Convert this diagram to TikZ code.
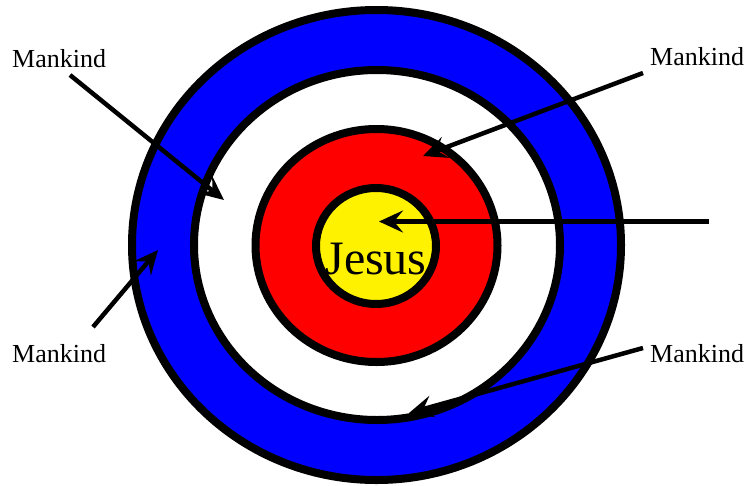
\documentclass[tikz,border=0pt]{standalone}
\usepackage{fontspec}
\setmainfont{Liberation Serif}
\usetikzlibrary{arrows.meta}
\begin{document}
\begin{tikzpicture}[x=1pt,y=-1pt,
  ring/.style={draw=black,line width=8pt},
  lbl/.style={inner sep=0pt,anchor=base west,font=\fontsize{26}{26}\selectfont},
  pointer/.style={line width=4.5pt,-{Stealth[length=24pt,width=22pt,inset=9pt]}}]
\useasboundingbox (0,0) rectangle (747,485);
% target rings
\fill[blue] (376.5,245) ellipse [x radius=244.5,y radius=235];
\draw[ring] (376.5,245) ellipse [x radius=244.5,y radius=235];
\draw[ring,fill=white] (377,245) ellipse [x radius=183,y radius=175];
\draw[ring,fill=red] (376.5,245.5) ellipse [x radius=121,y radius=116.5];
\draw[ring,fill=yellow] (376,246) ellipse [x radius=60,y radius=58];
\node[inner sep=0pt,anchor=base,font=\fontsize{48}{48}\selectfont] (jesus) at (376,274) {Jesus};
% labels
\node[lbl] (tl) at (12,67) {Mankind};
\node[lbl] (tr) at (650,65) {Mankind};
\node[lbl] (bl) at (12,362) {Mankind};
\node[lbl] (br) at (650,362) {Mankind};
% arrow ends
\coordinate (tls) at (70,75);   \coordinate (tlt) at (224,200);
\coordinate (trs) at (643,73);  \coordinate (trt) at (423,156);
\coordinate (rs)  at (709,221.5); \coordinate (rt) at (379,221.5);
\coordinate (bls) at (93,327);  \coordinate (blt) at (158,250);
\coordinate (brs) at (643,348); \coordinate (brt) at (409,413);
\draw[pointer] (tls) -- (tlt);
\draw[pointer] (trs) -- (trt);
\draw[pointer] (rs) -- (rt);
\draw[pointer] (bls) -- (blt);
\draw[pointer] (brs) -- (brt);
\end{tikzpicture}
\end{document}
